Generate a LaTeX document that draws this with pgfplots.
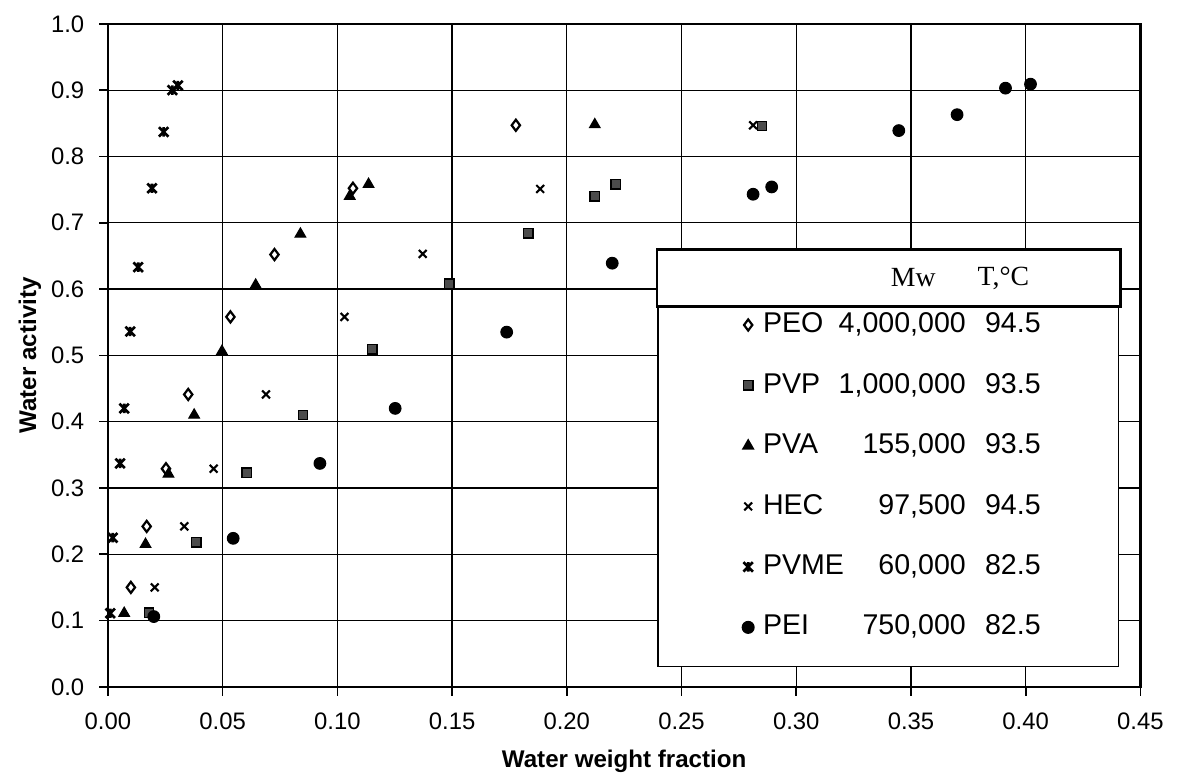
\documentclass[border=0pt]{standalone}
\usepackage{fontspec}
\setmainfont{Liberation Sans}
\newfontfamily\serif{Liberation Serif}
\usepackage{pgfplots}
\pgfplotsset{compat=1.18}
\usetikzlibrary{calc,plotmarks}

% Excel-style "star" marker: an x with a vertical bar
\pgfdeclareplotmark{xstar}{%
  \pgfpathmoveto{\pgfqpoint{-\pgfplotmarksize}{-\pgfplotmarksize}}%
  \pgfpathlineto{\pgfqpoint{\pgfplotmarksize}{\pgfplotmarksize}}%
  \pgfpathmoveto{\pgfqpoint{-\pgfplotmarksize}{\pgfplotmarksize}}%
  \pgfpathlineto{\pgfqpoint{\pgfplotmarksize}{-\pgfplotmarksize}}%
  \pgfpathmoveto{\pgfqpoint{0pt}{-\pgfplotmarksize}}%
  \pgfpathlineto{\pgfqpoint{0pt}{\pgfplotmarksize}}%
  \pgfusepathqstroke}

\newcommand\legrow[3]{\makebox[73.1pt]{#1\hfill #2}\makebox[27pt][r]{#3}\hspace*{-4.3pt}}

\begin{document}
\begin{tikzpicture}
\begin{axis}[name=ax, scale only axis, width=372.2pt, height=239pt,
  xmin=0, xmax=0.45, ymin=0, ymax=1,
  xtick={0,0.05,0.10,0.15,0.20,0.25,0.30,0.35,0.40,0.45},
  ytick={0,0.1,0.2,0.3,0.4,0.5,0.6,0.7,0.8,0.9,1.0},
  scaled ticks=false,
  xticklabel style={yshift=-2.5pt, /pgf/number format/.cd, fixed, fixed zerofill, precision=2, assume math mode=true},
  yticklabel style={xshift=-1.8pt, /pgf/number format/.cd, fixed, fixed zerofill, precision=1, assume math mode=true},
  tick label style={font=\fontsize{8.6}{10}\selectfont},
  tick align=outside, tick pos=left, major tick length=3.2pt,
  every tick/.style={black, line width=0.6pt},
  grid=major, grid style={black, line width=0.45pt},
  axis line style={line width=0.8pt},
  xlabel={Water weight fraction}, ylabel={Water activity},
  label style={font=\bfseries\fontsize{8.7}{10}\selectfont},
  xlabel style={at={(axis description cs:0.5,-0.113)}, anchor=center},
  ylabel style={at={(axis description cs:-0.0755,0.5)}, anchor=center},
  legend style={at={(axis cs:0.2394,0.0301)}, anchor=south west, draw=black, line width=0.5pt,
    font=\fontsize{10.3}{12}\selectfont, inner xsep=30.3pt, inner ysep=9.25pt, row sep=12.3pt,
    nodes={inner ysep=0pt, text height=7.5pt, text depth=2pt}},
  legend cell align=left,
  legend image code/.code={\path (-2.5pt,0pt) (2.6pt,0pt);\draw[mark repeat=2,mark phase=2] plot coordinates {(-0.5pt,0pt)(-0.5pt,0pt)(-0.5pt,0pt)};},
]
% PEO
\addplot[only marks, mark=diamond*, mark size=2pt, mark options={fill=white, draw=black, line width=0.8pt}] coordinates {
  (0.0100,0.150) (0.0169,0.242) (0.0253,0.329) (0.0350,0.441) (0.0534,0.558)
  (0.0726,0.652) (0.1068,0.752) (0.1778,0.847)};
\addlegendentry{\legrow{PEO}{4,000,000}{94.5}}
% PVP
\addplot[only marks, mark=square*, mark size=1.7pt, mark options={fill=black!70, draw=black, line width=0.5pt}] coordinates {
  (0.0179,0.112) (0.0386,0.218) (0.0605,0.323) (0.0850,0.410) (0.1153,0.509)
  (0.1488,0.608) (0.1832,0.684) (0.2122,0.740) (0.2214,0.758) (0.2851,0.846)};
\addlegendentry{\legrow{PVP}{1,000,000}{93.5}}
% PVA
\addplot[only marks, mark=triangle*, mark size=2.2pt, mark options={fill=black, draw=black}] coordinates {
  (0.0071,0.111) (0.0164,0.215) (0.0264,0.321) (0.0376,0.410) (0.0497,0.506)
  (0.0644,0.606) (0.0839,0.683) (0.1054,0.740) (0.1136,0.758) (0.2122,0.848)};
\addlegendentry{\legrow{PVA}{155,000}{93.5}}
% HEC
\addplot[only marks, mark=x, mark size=2pt, mark options={draw=black, line width=0.75pt}] coordinates {
  (0.0204,0.150) (0.0333,0.242) (0.0461,0.329) (0.0689,0.441) (0.1031,0.558)
  (0.1372,0.653) (0.1884,0.751) (0.2812,0.847)};
\addlegendentry{\legrow{HEC}{97,500}{94.5}}
% PVME
\addplot[only marks, mark=xstar, mark size=1.7pt, mark options={draw=black, line width=0.95pt}] coordinates {
  (0.0010,0.111) (0.0021,0.225) (0.0053,0.337) (0.0071,0.420) (0.0097,0.536)
  (0.0132,0.633) (0.0192,0.752) (0.0243,0.837) (0.0281,0.900) (0.0305,0.907)};
\addlegendentry{\legrow{PVME}{60,000}{82.5}}
% PEI
\addplot[only marks, mark=*, mark size=2.1pt, mark options={fill=black, draw=black}] coordinates {
  (0.0200,0.106) (0.0546,0.224) (0.0924,0.337) (0.1252,0.420) (0.1738,0.535)
  (0.2198,0.639) (0.2812,0.743) (0.2893,0.754) (0.3447,0.839) (0.3701,0.863)
  (0.3912,0.903) (0.4021,0.909)};
\addlegendentry{\legrow{PEI}{750,000}{82.5}}
\coordinate (hA) at (axis cs:0.2394,0.5738);
\coordinate (hB) at (axis cs:0.4413,0.6596);
\coordinate (hM) at (axis cs:0.3510,0.6167);
\coordinate (hT) at (axis cs:0.3903,0.6167);
\end{axis}
\draw[line width=0.8pt, fill=white] (hA) rectangle (hB);
\node[font=\serif\fontsize{10}{12}\selectfont, inner sep=0pt] at (hM) {Mw};
\node[font=\serif\fontsize{10}{12}\selectfont, inner sep=0pt] at (hT) {T,°C};
\path ($(ax.south west)+(-38.9pt,-30.6pt)$) ($(ax.north east)+(15pt,8.6pt)$);
\end{tikzpicture}
\end{document}
